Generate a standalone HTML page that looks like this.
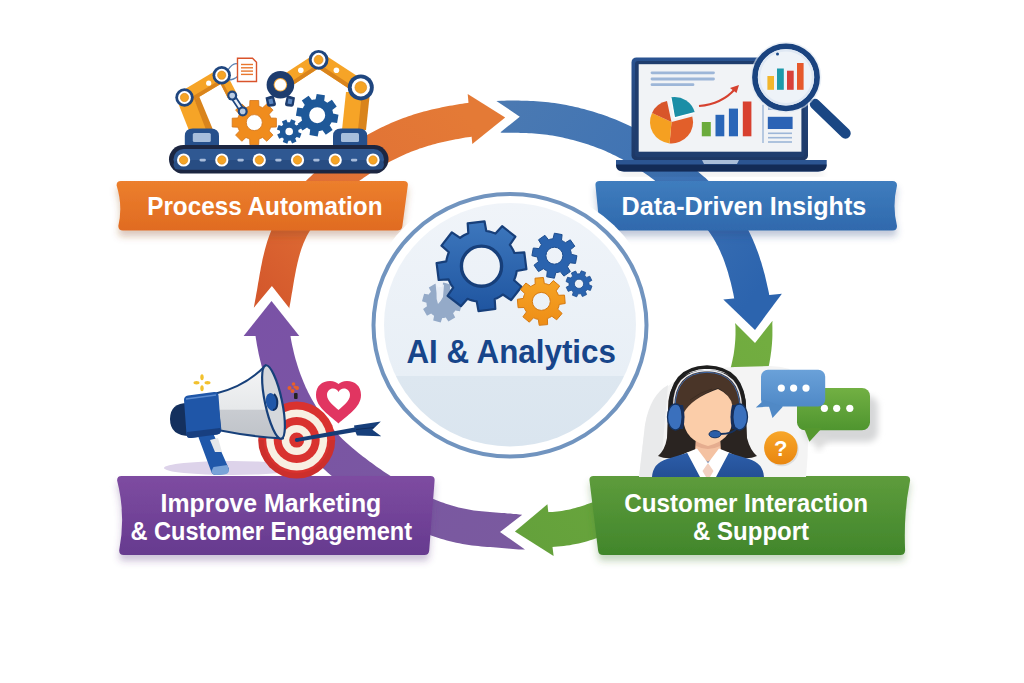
<!DOCTYPE html>
<html><head><meta charset="utf-8"><style>
html,body{margin:0;padding:0;background:#fff;width:1024px;height:683px;overflow:hidden}
svg{display:block}
</style></head><body>
<svg width="1024" height="683" viewBox="0 0 1024 683">
<rect width="1024" height="683" fill="#fff"/>

<defs>
<linearGradient id="gOr" x1="0" y1="0" x2="0" y2="1"><stop offset="0" stop-color="#ec7f2d"/><stop offset="1" stop-color="#e06b22"/></linearGradient>
<linearGradient id="gBl" x1="0" y1="0" x2="0" y2="1"><stop offset="0" stop-color="#3f7dbe"/><stop offset="1" stop-color="#2f69ad"/></linearGradient>
<linearGradient id="gGr" x1="0" y1="0" x2="0" y2="1"><stop offset="0" stop-color="#5e9c3c"/><stop offset="1" stop-color="#41862b"/></linearGradient>
<linearGradient id="gPu" x1="0" y1="0" x2="0" y2="1"><stop offset="0" stop-color="#7e4ca1"/><stop offset="1" stop-color="#663a8f"/></linearGradient>
<linearGradient id="aOr" gradientUnits="userSpaceOnUse" x1="470" y1="120" x2="272" y2="308"><stop offset="0" stop-color="#e47a36"/><stop offset="0.6" stop-color="#e06f35"/><stop offset="1" stop-color="#d4582c"/></linearGradient>
<linearGradient id="aBl" gradientUnits="userSpaceOnUse" x1="500" y1="117" x2="750" y2="300"><stop offset="0" stop-color="#4a79b2"/><stop offset="0.6" stop-color="#3d72b4"/><stop offset="1" stop-color="#2c64ae"/></linearGradient>
<linearGradient id="aGr" gradientUnits="userSpaceOnUse" x1="750" y1="320" x2="515" y2="530"><stop offset="0" stop-color="#72ad40"/><stop offset="1" stop-color="#64a13b"/></linearGradient>
<linearGradient id="aPu" gradientUnits="userSpaceOnUse" x1="520" y1="532" x2="272" y2="300"><stop offset="0" stop-color="#7a5a9f"/><stop offset="1" stop-color="#7a52a6"/></linearGradient>
<linearGradient id="cIn" x1="0" y1="0" x2="0" y2="1"><stop offset="0" stop-color="#f0f4f9"/><stop offset="0.71" stop-color="#e8eff6"/><stop offset="0.71" stop-color="#dde7f0"/><stop offset="1" stop-color="#dae5ef"/></linearGradient>
<filter id="sh" x="-10%" y="-20%" width="120%" height="160%"><feDropShadow dx="0" dy="5" stdDeviation="3" flood-color="#000" flood-opacity="0.22"/></filter>
<filter id="shOr" x="-10%" y="-20%" width="120%" height="170%"><feDropShadow dx="0" dy="6" stdDeviation="3.5" flood-color="#8a4a20" flood-opacity="0.3"/></filter>
<filter id="shBl" x="-10%" y="-20%" width="120%" height="170%"><feDropShadow dx="0" dy="6" stdDeviation="3.5" flood-color="#2a4a80" flood-opacity="0.3"/></filter>
<filter id="shGr" x="-10%" y="-20%" width="120%" height="170%"><feDropShadow dx="0" dy="6" stdDeviation="3.5" flood-color="#3f7a2a" flood-opacity="0.3"/></filter>
<filter id="shPu" x="-10%" y="-20%" width="120%" height="170%"><feDropShadow dx="0" dy="6" stdDeviation="3.5" flood-color="#5a3a80" flood-opacity="0.3"/></filter>
<filter id="sh2" x="-10%" y="-20%" width="130%" height="160%"><feDropShadow dx="2" dy="3" stdDeviation="2" flood-color="#000" flood-opacity="0.18"/></filter>
<filter id="blur3"><feGaussianBlur stdDeviation="3"/></filter>
</defs>
<path d="M289.0,307.8 L289.2,308.8 L289.6,306.3 L290.1,303.7 L290.6,301.1 L291.0,298.6 L291.4,296.1 L291.8,293.5 L292.3,291.0 L292.7,288.5 L293.1,286.1 L293.5,283.6 L293.9,281.2 L294.3,278.7 L294.8,276.3 L295.2,274.0 L295.7,271.6 L296.1,269.3 L296.6,267.0 L297.1,264.7 L297.6,262.4 L298.2,260.2 L298.7,258.0 L299.3,255.9 L299.9,253.7 L300.6,251.6 L301.2,249.6 L301.9,247.5 L302.7,245.6 L303.4,243.6 L304.2,241.7 L305.1,239.8 L305.9,237.9 L306.8,236.1 L307.8,234.3 L308.8,232.5 L309.9,230.7 L311.0,228.9 L312.1,227.1 L313.3,225.3 L314.6,223.6 L315.9,221.8 L317.2,220.1 L318.6,218.4 L320.0,216.6 L321.4,214.9 L322.9,213.2 L324.4,211.5 L326.0,209.9 L327.6,208.2 L329.2,206.5 L330.8,204.9 L332.5,203.3 L334.2,201.6 L335.9,200.0 L337.7,198.4 L339.5,196.8 L341.3,195.3 L343.1,193.7 L345.0,192.1 L346.8,190.6 L348.7,189.1 L350.6,187.6 L352.5,186.1 L354.4,184.6 L356.3,183.2 L358.2,181.7 L360.1,180.3 L362.1,178.9 L364.0,177.6 L366.0,176.2 L367.9,174.9 L369.9,173.6 L371.9,172.3 L373.9,171.0 L375.8,169.7 L377.9,168.5 L379.9,167.3 L381.9,166.1 L383.9,164.9 L386.0,163.8 L388.0,162.7 L390.1,161.6 L392.1,160.5 L394.2,159.4 L396.3,158.4 L398.3,157.4 L400.4,156.4 L402.5,155.5 L404.7,154.5 L406.8,153.6 L408.9,152.7 L411.0,151.8 L413.2,151.0 L415.3,150.2 L417.5,149.4 L419.6,148.6 L421.8,147.9 L424.0,147.2 L426.2,146.5 L428.4,145.8 L430.6,145.2 L432.8,144.5 L435.1,143.9 L437.3,143.3 L439.6,142.8 L441.9,142.2 L444.2,141.7 L446.5,141.2 L448.8,140.7 L451.1,140.2 L453.5,139.8 L455.8,139.3 L458.2,138.9 L460.6,138.5 L462.9,138.0 L465.3,137.6 L467.7,137.3 L470.1,136.9 L472.5,136.5 L477.5,135.8 L472.4,102.1 L467.5,102.9 L464.9,103.3 L462.4,103.7 L459.9,104.1 L457.3,104.5 L454.7,104.9 L452.2,105.4 L449.6,105.8 L447.0,106.3 L444.5,106.8 L441.9,107.3 L439.3,107.9 L436.7,108.4 L434.2,109.0 L431.6,109.6 L429.0,110.2 L426.4,110.9 L423.8,111.6 L421.3,112.3 L418.7,113.0 L416.1,113.8 L413.5,114.6 L411.0,115.5 L408.4,116.3 L405.9,117.2 L403.4,118.1 L400.9,119.1 L398.4,120.0 L395.9,121.0 L393.4,122.1 L390.9,123.1 L388.5,124.2 L386.1,125.3 L383.6,126.4 L381.2,127.6 L378.8,128.8 L376.4,130.0 L374.1,131.2 L371.7,132.5 L369.3,133.8 L367.0,135.1 L364.7,136.4 L362.4,137.7 L360.1,139.1 L357.8,140.5 L355.5,141.9 L353.2,143.4 L351.0,144.8 L348.8,146.3 L346.5,147.8 L344.3,149.3 L342.1,150.9 L339.9,152.4 L337.8,154.0 L335.6,155.6 L333.5,157.2 L331.3,158.9 L329.2,160.5 L327.1,162.2 L325.0,163.9 L322.9,165.6 L320.8,167.3 L318.8,169.1 L316.7,170.9 L314.7,172.7 L312.6,174.5 L310.6,176.4 L308.6,178.3 L306.6,180.2 L304.7,182.1 L302.7,184.1 L300.8,186.1 L298.9,188.1 L297.0,190.2 L295.2,192.3 L293.4,194.4 L291.6,196.6 L289.9,198.8 L288.1,201.0 L286.5,203.3 L284.8,205.6 L283.2,207.9 L281.7,210.3 L280.2,212.7 L278.7,215.2 L277.3,217.6 L276.0,220.2 L274.7,222.7 L273.5,225.3 L272.3,228.0 L271.2,230.6 L270.2,233.2 L269.2,235.8 L268.3,238.5 L267.4,241.1 L266.6,243.8 L265.8,246.4 L265.1,249.1 L264.4,251.7 L263.8,254.3 L263.1,257.0 L262.5,259.6 L262.0,262.2 L261.5,264.8 L260.9,267.4 L260.5,270.0 L260.0,272.6 L259.5,275.2 L259.1,277.7 L258.7,280.3 L258.2,282.8 L257.8,285.3 L257.4,287.8 L257.0,290.2 L256.5,292.7 L256.1,295.1 L255.7,297.5 L255.2,299.9 L254.8,302.2 L253.8,307.8 L271.9,286.0Z" fill="url(#aOr)"/><path d="M467.7,94 L505.2,117.5 L472.3,144Z" fill="url(#aOr)"/><path d="M500.5,132.3 L501.4,132.7 L504.2,132.7 L507.0,132.7 L509.8,132.7 L512.6,132.8 L515.4,132.8 L518.1,132.8 L520.8,132.9 L523.5,132.9 L526.2,133.0 L528.9,133.2 L531.6,133.3 L534.2,133.5 L536.8,133.7 L539.4,133.9 L542.0,134.2 L544.5,134.5 L547.1,134.8 L549.7,135.2 L552.3,135.6 L554.9,136.1 L557.5,136.5 L560.1,137.0 L562.7,137.6 L565.3,138.2 L567.8,138.8 L570.4,139.4 L573.0,140.0 L575.6,140.7 L578.1,141.4 L580.7,142.2 L583.2,143.0 L585.8,143.7 L588.3,144.6 L590.8,145.4 L593.3,146.3 L595.7,147.2 L598.2,148.2 L600.7,149.1 L603.1,150.1 L605.5,151.1 L607.9,152.2 L610.3,153.3 L612.6,154.4 L615.0,155.5 L617.3,156.7 L619.6,157.9 L621.9,159.1 L624.2,160.4 L626.5,161.7 L628.8,163.0 L631.0,164.3 L633.3,165.7 L635.5,167.1 L637.7,168.6 L639.9,170.0 L642.2,171.5 L644.4,173.0 L646.6,174.6 L648.8,176.1 L651.0,177.7 L653.2,179.3 L655.3,180.9 L657.5,182.6 L659.7,184.3 L661.9,185.9 L664.1,187.6 L666.2,189.4 L668.4,191.1 L670.5,192.8 L672.7,194.6 L674.8,196.3 L676.9,198.1 L678.9,199.9 L681.0,201.7 L683.0,203.5 L685.0,205.3 L687.0,207.1 L688.9,208.9 L690.8,210.8 L692.7,212.6 L694.5,214.5 L696.3,216.4 L698.1,218.3 L699.8,220.2 L701.4,222.1 L703.1,224.1 L704.7,226.0 L706.2,228.0 L707.7,230.0 L709.2,232.0 L710.6,234.0 L711.9,236.1 L713.2,238.1 L714.5,240.2 L715.7,242.3 L716.8,244.5 L718.0,246.6 L719.1,248.9 L720.1,251.1 L721.1,253.4 L722.1,255.7 L723.1,258.1 L724.0,260.5 L724.9,262.9 L725.7,265.4 L726.5,267.8 L727.3,270.3 L728.1,272.8 L728.8,275.4 L729.5,277.9 L730.2,280.5 L730.9,283.1 L731.5,285.7 L732.1,288.3 L732.7,291.0 L733.3,293.6 L733.8,296.3 L734.3,298.9 L735.3,303.8 L769.6,297.0 L768.7,292.1 L768.1,289.2 L767.4,286.3 L766.8,283.4 L766.1,280.4 L765.4,277.5 L764.7,274.6 L763.9,271.7 L763.1,268.7 L762.2,265.8 L761.4,262.8 L760.4,259.9 L759.5,257.0 L758.5,254.0 L757.4,251.1 L756.3,248.2 L755.2,245.3 L754.0,242.4 L752.8,239.5 L751.5,236.7 L750.1,233.8 L748.7,231.0 L747.2,228.2 L745.6,225.4 L744.0,222.6 L742.4,219.9 L740.6,217.2 L738.9,214.6 L737.0,212.0 L735.2,209.5 L733.3,207.0 L731.3,204.6 L729.3,202.2 L727.3,199.8 L725.2,197.5 L723.2,195.2 L721.0,192.9 L718.9,190.7 L716.7,188.5 L714.5,186.4 L712.3,184.3 L710.1,182.2 L707.8,180.2 L705.6,178.1 L703.3,176.2 L701.0,174.2 L698.7,172.2 L696.4,170.3 L694.1,168.4 L691.8,166.6 L689.4,164.7 L687.1,162.9 L684.8,161.1 L682.5,159.3 L680.1,157.5 L677.7,155.7 L675.4,154.0 L673.0,152.2 L670.6,150.5 L668.2,148.8 L665.7,147.1 L663.3,145.4 L660.8,143.7 L658.3,142.1 L655.8,140.5 L653.3,138.9 L650.7,137.3 L648.1,135.8 L645.5,134.3 L642.9,132.8 L640.3,131.3 L637.6,129.9 L634.9,128.5 L632.2,127.1 L629.5,125.7 L626.8,124.4 L624.0,123.2 L621.2,121.9 L618.4,120.8 L615.6,119.6 L612.8,118.5 L610.0,117.4 L607.1,116.3 L604.3,115.3 L601.4,114.3 L598.5,113.4 L595.7,112.4 L592.8,111.6 L589.9,110.7 L587.0,109.9 L584.0,109.1 L581.1,108.4 L578.2,107.6 L575.2,107.0 L572.3,106.3 L569.4,105.7 L566.4,105.1 L563.4,104.5 L560.5,104.0 L557.5,103.5 L554.5,103.1 L551.5,102.7 L548.4,102.3 L545.4,102.0 L542.4,101.7 L539.3,101.4 L536.3,101.2 L533.3,101.0 L530.3,100.9 L527.3,100.8 L524.4,100.7 L521.4,100.7 L518.5,100.6 L515.6,100.6 L512.7,100.6 L509.8,100.6 L507.0,100.6 L504.1,100.7 L501.3,100.7 L496.4,101.0 L519.8,116.7Z" fill="url(#aBl)"/><path d="M723.3,299.6 L755,330 L781.9,293.8Z" fill="url(#aBl)"/><path d="M735.0,323.0 L735.4,325.4 L735.5,327.8 L735.5,330.1 L735.5,332.5 L735.5,334.8 L735.4,337.2 L735.3,339.5 L735.1,341.9 L734.9,344.2 L734.7,346.5 L734.4,348.9 L734.1,351.2 L733.8,353.5 L733.4,355.8 L732.9,358.1 L732.4,360.4 L731.9,362.7 L731.4,364.9 L730.8,367.2 L730.1,369.5 L729.4,371.7 L728.7,374.0 L728.0,376.2 L727.2,378.4 L726.4,380.7 L725.5,382.9 L724.6,385.1 L723.7,387.2 L722.7,389.4 L721.7,391.6 L720.6,393.7 L719.6,395.8 L718.4,398.0 L717.3,400.1 L716.1,402.1 L714.9,404.2 L713.7,406.3 L712.4,408.3 L711.1,410.4 L709.8,412.4 L708.4,414.4 L707.0,416.4 L705.6,418.3 L704.2,420.3 L702.7,422.2 L701.2,424.2 L699.7,426.1 L698.1,428.0 L696.6,429.8 L695.0,431.7 L693.4,433.5 L691.7,435.3 L690.1,437.2 L688.4,438.9 L686.7,440.7 L684.9,442.5 L683.2,444.2 L681.4,445.9 L679.6,447.7 L677.8,449.3 L676.0,451.0 L674.2,452.7 L672.3,454.3 L670.4,455.9 L668.5,457.5 L666.6,459.1 L664.7,460.7 L662.7,462.2 L660.8,463.8 L658.8,465.3 L656.8,466.8 L654.8,468.3 L652.7,469.7 L650.7,471.2 L648.7,472.6 L646.6,474.0 L644.5,475.4 L642.4,476.7 L640.3,478.1 L638.2,479.4 L636.1,480.7 L633.9,482.0 L631.8,483.3 L629.6,484.6 L627.4,485.8 L625.3,487.0 L623.1,488.2 L620.9,489.4 L618.7,490.6 L616.4,491.7 L614.2,492.8 L612.0,493.9 L609.7,495.0 L607.5,496.0 L605.2,497.0 L602.9,498.0 L600.7,499.0 L598.4,500.0 L596.1,500.9 L593.8,501.8 L591.4,502.7 L589.1,503.5 L586.8,504.3 L584.5,505.2 L582.1,505.9 L579.8,506.7 L577.5,507.3 L575.2,508.0 L573.0,508.6 L570.7,509.2 L568.5,509.7 L566.2,510.1 L564.0,510.5 L561.7,510.9 L559.5,511.2 L557.2,511.5 L554.8,511.7 L552.5,511.9 L550.1,512.0 L545.1,512.3 L546.9,547.2 L551.9,547.0 L554.8,546.8 L557.8,546.6 L560.8,546.3 L563.7,546.0 L566.7,545.6 L569.7,545.2 L572.7,544.6 L575.7,544.0 L578.7,543.4 L581.6,542.7 L584.5,541.9 L587.3,541.2 L590.1,540.3 L592.9,539.5 L595.6,538.6 L598.3,537.7 L601.0,536.7 L603.7,535.8 L606.4,534.8 L609.0,533.8 L611.6,532.7 L614.3,531.6 L616.9,530.5 L619.5,529.4 L622.1,528.3 L624.7,527.1 L627.2,525.9 L629.8,524.7 L632.3,523.4 L634.8,522.2 L637.4,520.9 L639.9,519.6 L642.3,518.2 L644.8,516.9 L647.3,515.5 L649.7,514.1 L652.2,512.7 L654.6,511.2 L657.0,509.7 L659.4,508.3 L661.8,506.8 L664.1,505.2 L666.5,503.7 L668.8,502.1 L671.1,500.5 L673.5,498.9 L675.8,497.2 L678.0,495.6 L680.3,493.9 L682.6,492.2 L684.8,490.5 L687.0,488.7 L689.3,486.9 L691.4,485.2 L693.6,483.3 L695.8,481.5 L697.9,479.6 L700.1,477.8 L702.2,475.8 L704.3,473.9 L706.3,472.0 L708.4,470.0 L710.4,468.0 L712.4,466.0 L714.4,463.9 L716.4,461.8 L718.4,459.7 L720.3,457.6 L722.2,455.5 L724.1,453.3 L726.0,451.1 L727.8,448.9 L729.6,446.7 L731.4,444.4 L733.1,442.1 L734.9,439.8 L736.6,437.4 L738.3,435.1 L739.9,432.7 L741.5,430.3 L743.1,427.8 L744.7,425.4 L746.2,422.9 L747.7,420.3 L749.1,417.8 L750.5,415.2 L751.9,412.6 L753.3,410.0 L754.6,407.4 L755.8,404.7 L757.0,402.1 L758.2,399.4 L759.4,396.6 L760.5,393.9 L761.5,391.1 L762.5,388.3 L763.5,385.5 L764.4,382.7 L765.3,379.9 L766.1,377.0 L766.9,374.1 L767.6,371.2 L768.3,368.3 L768.9,365.4 L769.5,362.5 L770.0,359.5 L770.5,356.6 L770.9,353.6 L771.3,350.7 L771.6,347.7 L771.9,344.7 L772.1,341.7 L772.3,338.8 L772.4,335.8 L772.4,332.8 L772.4,329.8 L772.4,326.8 L772.3,323.9 L772.5,320.7 L755.0,343.0Z" fill="url(#aGr)"/><path d="M547.4,504.3 L514.9,531.5 L553.6,556Z" fill="url(#aGr)"/><path d="M521.6,515.3 L522.1,514.7 L519.2,514.4 L516.3,514.1 L513.3,513.9 L510.4,513.6 L507.5,513.4 L504.5,513.1 L501.5,512.9 L498.6,512.7 L495.7,512.5 L492.8,512.3 L489.9,512.0 L487.1,511.8 L484.4,511.6 L481.7,511.3 L479.0,511.1 L476.4,510.8 L473.8,510.4 L471.2,510.0 L468.7,509.6 L466.2,509.1 L463.6,508.6 L461.1,508.0 L458.5,507.4 L456.0,506.7 L453.5,506.0 L450.9,505.3 L448.4,504.5 L445.9,503.7 L443.4,502.8 L440.9,501.9 L438.4,501.0 L435.9,500.0 L433.4,499.0 L430.9,497.9 L428.4,496.9 L426.0,495.8 L423.5,494.6 L421.1,493.5 L418.7,492.3 L416.3,491.1 L413.8,489.8 L411.4,488.5 L409.0,487.2 L406.7,485.9 L404.3,484.5 L401.9,483.1 L399.5,481.7 L397.2,480.3 L394.8,478.8 L392.5,477.3 L390.2,475.8 L387.9,474.3 L385.5,472.8 L383.2,471.2 L380.9,469.6 L378.6,468.0 L376.3,466.4 L374.1,464.8 L371.8,463.1 L369.5,461.4 L367.3,459.8 L365.1,458.1 L362.9,456.4 L360.7,454.7 L358.5,453.0 L356.4,451.3 L354.3,449.6 L352.2,447.8 L350.2,446.1 L348.2,444.3 L346.2,442.5 L344.3,440.7 L342.4,438.9 L340.5,437.0 L338.6,435.1 L336.8,433.2 L335.0,431.2 L333.2,429.3 L331.5,427.3 L329.8,425.3 L328.1,423.2 L326.4,421.1 L324.8,419.0 L323.2,416.9 L321.7,414.8 L320.2,412.6 L318.7,410.4 L317.3,408.2 L315.8,406.0 L314.5,403.7 L313.1,401.5 L311.8,399.2 L310.6,396.9 L309.3,394.5 L308.1,392.2 L307.0,389.8 L305.8,387.4 L304.8,384.9 L303.7,382.5 L302.7,380.0 L301.7,377.6 L300.7,375.1 L299.8,372.5 L298.9,370.0 L298.1,367.5 L297.3,364.9 L296.5,362.3 L295.7,359.8 L295.0,357.2 L294.3,354.6 L293.7,351.9 L293.1,349.3 L292.5,346.7 L291.9,344.0 L291.4,341.4 L290.9,338.8 L290.5,336.1 L290.1,333.4 L289.3,328.5 L255.2,333.6 L255.9,338.6 L256.4,341.6 L256.9,344.7 L257.5,347.8 L258.1,350.8 L258.7,353.9 L259.4,357.0 L260.1,360.0 L260.9,363.1 L261.6,366.1 L262.5,369.1 L263.4,372.2 L264.3,375.2 L265.2,378.2 L266.2,381.2 L267.3,384.2 L268.3,387.1 L269.5,390.1 L270.6,393.0 L271.8,396.0 L273.1,398.9 L274.4,401.8 L275.7,404.7 L277.1,407.5 L278.6,410.4 L280.1,413.2 L281.6,416.0 L283.1,418.8 L284.8,421.5 L286.4,424.2 L288.1,426.9 L289.9,429.6 L291.6,432.2 L293.5,434.8 L295.3,437.4 L297.2,440.0 L299.1,442.5 L301.1,445.0 L303.1,447.4 L305.2,449.8 L307.2,452.2 L309.4,454.6 L311.5,456.9 L313.7,459.2 L315.9,461.5 L318.1,463.7 L320.4,465.9 L322.7,468.0 L325.0,470.1 L327.4,472.2 L329.7,474.2 L332.1,476.2 L334.4,478.2 L336.8,480.1 L339.2,482.0 L341.6,483.9 L344.0,485.7 L346.4,487.6 L348.9,489.4 L351.3,491.1 L353.7,492.9 L356.2,494.7 L358.6,496.4 L361.1,498.2 L363.6,499.9 L366.1,501.6 L368.6,503.3 L371.2,505.0 L373.7,506.6 L376.3,508.3 L378.9,509.9 L381.5,511.5 L384.2,513.1 L386.8,514.6 L389.5,516.1 L392.2,517.7 L394.9,519.1 L397.6,520.6 L400.3,522.0 L403.1,523.4 L405.9,524.8 L408.7,526.1 L411.5,527.5 L414.3,528.7 L417.2,530.0 L420.1,531.2 L423.0,532.4 L425.9,533.5 L428.8,534.6 L431.8,535.7 L434.8,536.7 L437.8,537.7 L440.8,538.7 L443.8,539.6 L446.9,540.4 L450.0,541.2 L453.1,542.0 L456.2,542.7 L459.3,543.3 L462.5,543.9 L465.7,544.5 L468.9,545.0 L472.0,545.4 L475.1,545.8 L478.2,546.1 L481.3,546.4 L484.3,546.7 L487.3,546.9 L490.3,547.1 L493.2,547.3 L496.0,547.5 L498.9,547.7 L501.7,548.0 L504.5,548.2 L507.3,548.5 L510.2,548.7 L513.0,549.0 L515.9,549.2 L518.7,549.5 L525.0,549.4 L500.0,531.9Z" fill="url(#aPu)"/><path d="M243.6,336 L271.5,301 L299.3,336Z" fill="url(#aPu)"/>
<path d="M120.9,181.0 L403.9,181.0 Q408.4,181.0 407.8,185.5 L402.4,226.0 Q401.8,230.5 397.3,230.5 L123.0,230.5 Q118.5,230.5 118.3,226.0 Q123,206 116.6,185.5 Q116.4,181.0 120.9,181.0Z" fill="url(#gOr)" filter="url(#shOr)"/>
<path d="M599.5,181.0 L892.5,181.0 Q897.0,181.0 897.0,185.5 Q892,206 897.0,226.0 Q897.0,230.5 892.5,230.5 L604.5,230.5 Q600.0,230.5 599.5,226.0 L595.5,185.5 Q595.0,181.0 599.5,181.0Z" fill="url(#gBl)" filter="url(#shBl)"/>
<path d="M593.5,476.0 L905.9,476.0 Q910.4,476.0 910.1,480.5 Q903.5,512 905.1,550.5 Q904.8,555.0 900.3,555.0 L603.1,555.0 Q598.6,555.0 598.1,550.5 L589.5,480.5 Q589.0,476.0 593.5,476.0Z" fill="url(#gGr)" filter="url(#shGr)"/>
<path d="M121.5,476.0 L430.5,476.0 Q435.0,476.0 434.6,480.5 L429.2,550.5 Q428.8,555.0 424.3,555.0 L123.8,555.0 Q119.3,555.0 119.2,550.5 Q126,515 117.1,480.5 Q117.0,476.0 121.5,476.0Z" fill="url(#gPu)" filter="url(#shPu)"/>
<ellipse cx="510" cy="325.3" rx="147" ry="141.5" fill="#fff"/>
<ellipse cx="510" cy="325.3" rx="136.5" ry="131.3" fill="none" stroke="#7194bf" stroke-width="4"/>
<ellipse cx="510" cy="324.7" rx="126" ry="121.7" fill="url(#cIn)"/>
<path d="M178.8,104.8 L193.3,96.9 L208.5,129.8 L188.7,129.8Z" fill="#f6a427"/><path d="M193.3,96.9 L199,96 L213,129.8 L206,129.8Z" fill="#d9841c"/><path d="M346,92 L369,92 L364,130 L342,130Z" fill="#f6a427"/><path d="M362,92 L370,92 L366,130 L358,130Z" fill="#d9841c"/><path d="M188.1,103.5 L225.3,81.2 L218.1,69.2 L180.9,91.5Z" fill="#f6a427"/><path d="M188.1,103.5 L225.3,81.2 L223.3,77.9 L186.1,100.2Z" fill="#d9841c"/><path d="M217.3,77.5 L227.8,97.9 L236.6,93.3 L226.1,72.9Z" fill="#f6a427"/><path d="M217.3,77.5 L227.8,97.9 L230.2,96.6 L219.7,76.2Z" fill="#d9841c"/><path d="M284.2,90.7 L322.4,65.7 L314.8,53.9 L276.6,78.9Z" fill="#f6a427"/><path d="M284.2,90.7 L322.4,65.7 L320.3,62.4 L282.1,87.4Z" fill="#d9841c"/><path d="M314.5,66.1 L356.7,93.7 L364.9,81.1 L322.7,53.5Z" fill="#f6a427"/><path d="M314.5,66.1 L356.7,93.7 L359.0,90.2 L316.8,62.6Z" fill="#d9841c"/><circle cx="208.7" cy="83.2" r="2.6" fill="#fff"/><circle cx="300.8" cy="70.3" r="2.8" fill="#fff"/><circle cx="336.4" cy="70.3" r="2.8" fill="#fff"/><path d="M228,70 Q233,62 238,64" fill="none" stroke="#5a7fb0" stroke-width="1.2"/><path d="M228,80 Q234,80 238,76" fill="none" stroke="#5a7fb0" stroke-width="1.2"/><path d="M237.5,58.3 L252.5,58.3 L256.5,62.3 L256.5,81.5 L237.5,81.5Z" fill="#fff" stroke="#d9532b" stroke-width="1.4"/><line x1="241" y1="64.5" x2="253" y2="64.5" stroke="#e8772e" stroke-width="1.4"/><line x1="241" y1="67.8" x2="253" y2="67.8" stroke="#e8772e" stroke-width="1.4"/><line x1="241" y1="71.1" x2="253" y2="71.1" stroke="#e8772e" stroke-width="1.4"/><line x1="241" y1="74.4" x2="253" y2="74.4" stroke="#e8772e" stroke-width="1.4"/><path d="M249.7,106.2 L249.9,100.5 L258.7,100.5 L258.9,106.2 L259.9,106.5 L260.8,106.9 L261.7,107.3 L262.6,107.8 L266.8,103.9 L273.0,110.1 L269.1,114.3 L269.6,115.2 L270.0,116.1 L270.4,117.0 L270.7,118.0 L276.4,118.2 L276.4,127.0 L270.7,127.2 L270.4,128.2 L270.0,129.1 L269.6,130.0 L269.1,130.9 L273.0,135.1 L266.8,141.3 L262.6,137.4 L261.7,137.9 L260.8,138.3 L259.9,138.7 L258.9,139.0 L258.7,144.7 L249.9,144.7 L249.7,139.0 L248.7,138.7 L247.8,138.3 L246.9,137.9 L246.0,137.4 L241.8,141.3 L235.6,135.1 L239.5,130.9 L239.0,130.0 L238.6,129.1 L238.2,128.2 L237.9,127.2 L232.2,127.0 L232.2,118.2 L237.9,118.0 L238.2,117.0 L238.6,116.1 L239.0,115.2 L239.5,114.3 L235.6,110.1 L241.8,103.9 L246.0,107.8 L246.9,107.3 L247.8,106.9 L248.7,106.5Z M262.3,122.6 A8,8 0 1 0 246.3,122.6 A8,8 0 1 0 262.3,122.6Z" fill="#f08c1d" fill-rule="evenodd" stroke="#d2751a" stroke-width="0.8"/><path d="M315.6,99.3 L316.7,93.9 L324.9,95.3 L324.2,100.8 L325.0,101.2 L325.8,101.7 L326.6,102.2 L327.3,102.8 L331.9,99.8 L336.7,106.6 L332.3,109.9 L332.6,110.8 L332.8,111.7 L333.0,112.7 L333.1,113.6 L338.5,114.7 L337.1,122.9 L331.6,122.2 L331.2,123.0 L330.7,123.8 L330.2,124.6 L329.6,125.3 L332.6,129.9 L325.8,134.7 L322.5,130.3 L321.6,130.6 L320.7,130.8 L319.7,131.0 L318.8,131.1 L317.7,136.5 L309.5,135.1 L310.2,129.6 L309.4,129.2 L308.6,128.7 L307.8,128.2 L307.1,127.6 L302.5,130.6 L297.7,123.8 L302.1,120.5 L301.8,119.6 L301.6,118.7 L301.4,117.7 L301.3,116.8 L295.9,115.7 L297.3,107.5 L302.8,108.2 L303.2,107.4 L303.7,106.6 L304.2,105.8 L304.8,105.1 L301.8,100.5 L308.6,95.7 L311.9,100.1 L312.8,99.8 L313.7,99.6 L314.7,99.4Z M325.2,115.2 A8,8 0 1 0 309.2,115.2 A8,8 0 1 0 325.2,115.2Z" fill="#1e5898" fill-rule="evenodd"/><path d="M289.9,122.3 L291.1,119.2 L295.6,120.9 L294.6,124.0 L295.0,124.4 L295.4,124.7 L295.8,125.1 L296.2,125.5 L299.2,124.2 L301.2,128.6 L298.3,130.0 L298.4,130.6 L298.4,131.1 L298.4,131.6 L298.4,132.2 L301.5,133.4 L299.8,137.9 L296.7,136.9 L296.3,137.3 L296.0,137.7 L295.6,138.1 L295.2,138.5 L296.5,141.5 L292.1,143.5 L290.7,140.6 L290.1,140.7 L289.6,140.7 L289.1,140.7 L288.5,140.7 L287.3,143.8 L282.8,142.1 L283.8,139.0 L283.4,138.6 L283.0,138.3 L282.6,137.9 L282.2,137.5 L279.2,138.8 L277.2,134.4 L280.1,133.0 L280.0,132.4 L280.0,131.9 L280.0,131.4 L280.0,130.8 L276.9,129.6 L278.6,125.1 L281.7,126.1 L282.1,125.7 L282.4,125.3 L282.8,124.9 L283.2,124.5 L281.9,121.5 L286.3,119.5 L287.7,122.4 L288.3,122.3 L288.8,122.3 L289.3,122.3Z M293.0,131.5 A3.8,3.8 0 1 0 285.4,131.5 A3.8,3.8 0 1 0 293.0,131.5Z" fill="#1e5898" fill-rule="evenodd"/><line x1="232.2" y1="95.6" x2="242.7" y2="111.4" stroke="#1f467f" stroke-width="6" stroke-linecap="round"/><line x1="232.2" y1="95.6" x2="242.7" y2="111.4" stroke="#e9eef6" stroke-width="2.6" stroke-linecap="round"/><circle cx="232.2" cy="95.6" r="5" fill="#1f467f"/><circle cx="232.2" cy="95.6" r="2.8" fill="#b9cbe3"/><circle cx="242.7" cy="111.4" r="5" fill="#1f467f"/><circle cx="242.7" cy="111.4" r="2.8" fill="#b9cbe3"/><circle cx="184.5" cy="97.5" r="9.2" fill="#1f467f"/><circle cx="184.5" cy="97.5" r="6.44" fill="#fff"/><circle cx="184.5" cy="97.5" r="4.14" fill="#f5a425" stroke="#d9841a" stroke-width="0.6"/><circle cx="221.7" cy="75.2" r="9.2" fill="#1f467f"/><circle cx="221.7" cy="75.2" r="6.44" fill="#fff"/><circle cx="221.7" cy="75.2" r="4.14" fill="#f5a425" stroke="#d9841a" stroke-width="0.6"/><circle cx="318.6" cy="59.8" r="9.9" fill="#1f467f"/><circle cx="318.6" cy="59.8" r="6.93" fill="#fff"/><circle cx="318.6" cy="59.8" r="4.46" fill="#f5a425" stroke="#d9841a" stroke-width="0.6"/><circle cx="360.8" cy="87.4" r="13" fill="#1f467f"/><circle cx="360.8" cy="87.4" r="9.10" fill="#fff"/><circle cx="360.8" cy="87.4" r="5.85" fill="#f5a425" stroke="#d9841a" stroke-width="0.6"/><path d="M265.5,97.5 L273.5,95 L276,104 Q276,106 274,106.2 L269.5,106.8 Q267.5,107 267,105Z" fill="#1d3c6e"/><path d="M268.3,99.5 L272.3,98.5 L273.5,103.5 L269.5,104.3Z" fill="#5b86c0"/><path d="M287,95 L295,97.5 L293.8,105 Q293.3,107 291.3,106.8 L286.8,106.2 Q284.8,106 285,104Z" fill="#1d3c6e"/><path d="M288.5,98.5 L292.5,99.5 L291.5,104.3 L287.5,103.5Z" fill="#5b86c0"/><circle cx="280.4" cy="84.8" r="13.8" fill="#1d3c6e"/><circle cx="280.4" cy="84.8" r="6.8" fill="#f4a83a"/><circle cx="280.4" cy="84.8" r="5.8" fill="#fff"/><path d="M184.8,146 L184.8,136 Q184.8,128.5 192.8,128.5 L210.8,128.5 Q219.0,128.5 219.0,136 L219.0,146Z" fill="#26508c"/><rect x="192.8" y="133" width="18" height="9" rx="1.5" fill="#a7bedc"/><path d="M333,146 L333,136 Q333,128.5 341,128.5 L359,128.5 Q367.2,128.5 367.2,136 L367.2,146Z" fill="#26508c"/><rect x="341" y="133" width="18" height="9" rx="1.5" fill="#a7bedc"/><rect x="169" y="145" width="219.5" height="28.6" rx="14.3" fill="#1c2641"/><rect x="173.5" y="149" width="210.5" height="20.6" rx="10.3" fill="#2f5892"/><rect x="173.5" y="160" width="210.5" height="9.6" rx="4.8" fill="#284d83"/><circle cx="183.6" cy="160" r="6.6" fill="#fff"/><circle cx="183.6" cy="160" r="4.2" fill="#f5a425" stroke="#d78418" stroke-width="0.6"/><circle cx="221.8" cy="160" r="6.6" fill="#fff"/><circle cx="221.8" cy="160" r="4.2" fill="#f5a425" stroke="#d78418" stroke-width="0.6"/><circle cx="259.3" cy="160" r="6.6" fill="#fff"/><circle cx="259.3" cy="160" r="4.2" fill="#f5a425" stroke="#d78418" stroke-width="0.6"/><circle cx="297.5" cy="160" r="6.6" fill="#fff"/><circle cx="297.5" cy="160" r="4.2" fill="#f5a425" stroke="#d78418" stroke-width="0.6"/><circle cx="335.2" cy="160" r="6.6" fill="#fff"/><circle cx="335.2" cy="160" r="4.2" fill="#f5a425" stroke="#d78418" stroke-width="0.6"/><circle cx="373" cy="160" r="6.6" fill="#fff"/><circle cx="373" cy="160" r="4.2" fill="#f5a425" stroke="#d78418" stroke-width="0.6"/><rect x="199.5" y="158.8" width="6.4" height="2.6" rx="1.3" fill="#a9bddb"/><rect x="237.4" y="158.8" width="6.4" height="2.6" rx="1.3" fill="#a9bddb"/><rect x="275.2" y="158.8" width="6.4" height="2.6" rx="1.3" fill="#a9bddb"/><rect x="313.2" y="158.8" width="6.4" height="2.6" rx="1.3" fill="#a9bddb"/><rect x="350.9" y="158.8" width="6.4" height="2.6" rx="1.3" fill="#a9bddb"/>
<defs><linearGradient id="gLp" x1="0" y1="0" x2="0" y2="1"><stop offset="0" stop-color="#2a5391"/><stop offset="1" stop-color="#1d3764"/></linearGradient></defs><rect x="631.5" y="57.4" width="176.5" height="103" rx="5" fill="url(#gLp)"/><rect x="635" y="61" width="169.5" height="96" rx="3" fill="#1f3d6e"/><rect x="638.7" y="64.2" width="162.7" height="87.5" fill="#f1f3f6"/><rect x="620" y="171" width="204" height="5" rx="2.5" fill="#000" opacity="0.08" filter="url(#blur3)"/><path d="M616,160 L826.7,160 L826.7,164 Q826.7,171.5 818,171.5 L624,171.5 Q616,171.5 616,164Z" fill="#2c5592"/><path d="M616,164.5 L826.7,164.5 L826.7,165 Q826.7,171.5 818,171.5 L624,171.5 Q616,171.5 616,165Z" fill="#132b56"/><path d="M702,160 L739,160 L737,164 L704,164Z" fill="#a9bdd8"/><line x1="652" y1="72.8" x2="713.5" y2="72.8" stroke="#9db6d8" stroke-width="2.8" stroke-linecap="round"/><line x1="652" y1="79" x2="713.5" y2="79" stroke="#9db6d8" stroke-width="2.8" stroke-linecap="round"/><line x1="652" y1="84.7" x2="693" y2="84.7" stroke="#9db6d8" stroke-width="2.8" stroke-linecap="round"/><path d="M671.5,122.0 L692.3,116.4 A21.5,21.5 0 0 1 669.6,143.4Z" fill="#e25f2a"/><path d="M671.5,122.0 L669.6,143.4 A21.5,21.5 0 0 1 652.0,112.9Z" fill="#f5a021"/><path d="M671.5,122.0 L652.0,112.9 A21.5,21.5 0 0 1 667.0,101.0Z" fill="#d8552a"/><path d="M674.5,118.0 L670.9,97.3 A21,21 0 0 1 694.8,112.6Z" fill="#1b8ea6"/><path d="M674.5,118 L670.9,97.3" stroke="#fff" stroke-width="1.3"/><path d="M674.5,118 L694.8,112.6" stroke="#fff" stroke-width="1.3"/><rect x="701.8" y="122" width="9" height="14.3" fill="#6bab3c"/><rect x="715.5" y="114.8" width="8.8" height="21.5" fill="#2a66b8"/><rect x="728.9" y="108.6" width="9.1" height="27.7" fill="#2a66b8"/><rect x="742.8" y="101.5" width="8.6" height="34.8" fill="#d8402f"/><path d="M699,106 Q722,104 735,89" fill="none" stroke="#d6412f" stroke-width="2"/><path d="M739,85 L730,88 L736.5,93Z" fill="#d6412f"/><line x1="763" y1="104.7" x2="763" y2="143" stroke="#9db6d8" stroke-width="1.4"/><rect x="768" y="106" width="24" height="4" fill="#9db6d8"/><rect x="767.8" y="116.8" width="24.8" height="12.2" fill="#2c63b5"/><line x1="768" y1="133.3" x2="792" y2="133.3" stroke="#9db6d8" stroke-width="1.6"/><line x1="768" y1="137.7" x2="792" y2="137.7" stroke="#9db6d8" stroke-width="1.6"/><line x1="768" y1="142" x2="792" y2="142" stroke="#9db6d8" stroke-width="1.6"/><line x1="815" y1="104" x2="845.5" y2="133.4" stroke="#1a4784" stroke-width="10.5" stroke-linecap="round"/><circle cx="786" cy="77.3" r="35.5" fill="#dfe7f1" opacity="0.6"/><circle cx="786" cy="77.3" r="31" fill="#eef3f8" stroke="#1a437f" stroke-width="5.8"/><circle cx="786" cy="77.3" r="27" fill="none" stroke="#dfe8f3" stroke-width="2.5"/><rect x="767.4" y="76" width="6.6" height="13.8" fill="#f2b62c"/><rect x="777" y="68.5" width="6.8" height="21.3" fill="#1d9aaa"/><rect x="787" y="70.7" width="6.7" height="19.1" fill="#d8413a"/><rect x="797" y="63" width="6.6" height="26.8" fill="#e6592b"/><circle cx="777.5" cy="54" r="1.5" fill="#1a4a8a"/>
<defs><linearGradient id="gBig" x1="0" y1="0" x2="0" y2="1"><stop offset="0" stop-color="#3d77bd"/><stop offset="1" stop-color="#1f55a0"/></linearGradient><linearGradient id="gOrg" x1="0" y1="0" x2="0" y2="1"><stop offset="0" stop-color="#f6a526"/><stop offset="1" stop-color="#ee8d16"/></linearGradient></defs><path d="M441.8,287.0 L443.3,282.5 L450.8,284.6 L449.9,289.2 L450.7,289.7 L451.4,290.2 L452.1,290.8 L452.8,291.4 L457.0,289.3 L460.9,296.1 L457.0,298.7 L457.2,299.6 L457.4,300.5 L457.5,301.4 L457.5,302.3 L462.0,303.8 L459.9,311.3 L455.3,310.4 L454.8,311.2 L454.3,311.9 L453.7,312.6 L453.1,313.3 L455.2,317.5 L448.4,321.4 L445.8,317.5 L444.9,317.7 L444.0,317.9 L443.1,318.0 L442.2,318.0 L440.7,322.5 L433.2,320.4 L434.1,315.8 L433.3,315.3 L432.6,314.8 L431.9,314.2 L431.2,313.6 L427.0,315.7 L423.1,308.9 L427.0,306.3 L426.8,305.4 L426.6,304.5 L426.5,303.6 L426.5,302.7 L422.0,301.2 L424.1,293.7 L428.7,294.6 L429.2,293.8 L429.7,293.1 L430.3,292.4 L430.9,291.7 L428.8,287.5 L435.6,283.6 L438.2,287.5 L439.1,287.3 L440.0,287.1 L440.9,287.0Z" fill="#94aac8"/><path d="M435.5,283 Q440,282 444,285 L443,297 Q441,301 438,304 Q436,299 436.5,293Z" fill="#eef3f9" opacity="0.9"/><path d="M468.3,233.3 L467.7,223.4 L484.5,221.3 L486.3,231.0 L488.7,231.4 L491.0,232.0 L493.2,232.7 L495.5,233.6 L502.1,226.2 L515.4,236.6 L509.8,244.8 L511.2,246.7 L512.4,248.7 L513.5,250.8 L514.4,253.0 L524.3,252.4 L526.4,269.2 L516.7,271.0 L516.3,273.4 L515.7,275.7 L515.0,277.9 L514.1,280.2 L521.5,286.8 L511.1,300.1 L502.9,294.5 L501.0,295.9 L499.0,297.1 L496.9,298.2 L494.7,299.1 L495.3,309.0 L478.5,311.1 L476.7,301.4 L474.3,301.0 L472.0,300.4 L469.8,299.7 L467.5,298.8 L460.9,306.2 L447.6,295.8 L453.2,287.6 L451.8,285.7 L450.6,283.7 L449.5,281.6 L448.6,279.4 L438.7,280.0 L436.6,263.2 L446.3,261.4 L446.7,259.0 L447.3,256.7 L448.0,254.5 L448.9,252.2 L441.5,245.6 L451.9,232.3 L460.1,237.9 L462.0,236.5 L464.0,235.3 L466.1,234.2Z M501.0,266.2 A19.5,19.5 0 1 0 462.0,266.2 A19.5,19.5 0 1 0 501.0,266.2Z" fill="url(#gBig)" fill-rule="evenodd" stroke="#173f7a" stroke-width="2.2" stroke-linejoin="round"/><circle cx="481.5" cy="266.2" r="20.5" fill="none" stroke="#173f7a" stroke-width="2.5"/><path d="M553.0,238.8 L554.4,233.2 L562.1,234.6 L561.5,240.2 L562.5,240.8 L563.5,241.4 L564.5,242.0 L565.4,242.7 L570.3,239.8 L574.8,246.2 L570.3,249.8 L570.7,250.9 L571.0,252.0 L571.2,253.2 L571.3,254.3 L576.9,255.7 L575.5,263.4 L569.9,262.8 L569.3,263.8 L568.7,264.8 L568.1,265.8 L567.4,266.7 L570.3,271.6 L563.9,276.1 L560.3,271.6 L559.2,272.0 L558.1,272.3 L556.9,272.5 L555.8,272.6 L554.4,278.2 L546.7,276.8 L547.3,271.2 L546.3,270.6 L545.3,270.0 L544.3,269.4 L543.4,268.7 L538.5,271.6 L534.0,265.2 L538.5,261.6 L538.1,260.5 L537.8,259.4 L537.6,258.2 L537.5,257.1 L531.9,255.7 L533.3,248.0 L538.9,248.6 L539.5,247.6 L540.1,246.6 L540.7,245.6 L541.4,244.7 L538.5,239.8 L544.9,235.3 L548.5,239.8 L549.6,239.4 L550.7,239.1 L551.9,238.9Z M562.9,255.7 A8.5,8.5 0 1 0 545.9,255.7 A8.5,8.5 0 1 0 562.9,255.7Z" fill="#2a63ae" fill-rule="evenodd" stroke="#1d4d8e" stroke-width="1"/><path d="M579.9,273.8 L581.3,270.8 L585.6,272.4 L584.7,275.6 L585.2,276.0 L585.8,276.4 L586.2,276.9 L586.7,277.4 L589.8,276.2 L591.8,280.4 L588.8,282.0 L588.9,282.7 L589.0,283.4 L589.0,284.1 L589.0,284.7 L592.0,286.1 L590.4,290.4 L587.2,289.5 L586.8,290.0 L586.4,290.6 L585.9,291.0 L585.4,291.5 L586.6,294.6 L582.4,296.6 L580.8,293.6 L580.1,293.7 L579.4,293.8 L578.7,293.8 L578.1,293.8 L576.7,296.8 L572.4,295.2 L573.3,292.0 L572.8,291.6 L572.2,291.2 L571.8,290.7 L571.3,290.2 L568.2,291.4 L566.2,287.2 L569.2,285.6 L569.1,284.9 L569.0,284.2 L569.0,283.5 L569.0,282.9 L566.0,281.5 L567.6,277.2 L570.8,278.1 L571.2,277.6 L571.6,277.0 L572.1,276.6 L572.6,276.1 L571.4,273.0 L575.6,271.0 L577.2,274.0 L577.9,273.9 L578.6,273.8 L579.3,273.8Z M583.6,283.8 A4.6,4.6 0 1 0 574.4,283.8 A4.6,4.6 0 1 0 583.6,283.8Z" fill="#2a63ae" fill-rule="evenodd" stroke="#1d4d8e" stroke-width="0.8"/><path d="M535.2,284.3 L535.0,278.2 L543.4,277.5 L544.3,283.5 L545.6,283.7 L546.8,284.0 L548.0,284.5 L549.1,285.0 L553.3,280.6 L559.7,286.0 L556.1,290.9 L556.8,291.9 L557.4,293.0 L558.0,294.1 L558.4,295.3 L564.5,295.1 L565.2,303.5 L559.2,304.4 L559.0,305.7 L558.7,306.9 L558.2,308.1 L557.7,309.2 L562.1,313.4 L556.7,319.8 L551.8,316.2 L550.8,316.9 L549.7,317.5 L548.6,318.1 L547.4,318.5 L547.6,324.6 L539.2,325.3 L538.3,319.3 L537.0,319.1 L535.8,318.8 L534.6,318.3 L533.5,317.8 L529.3,322.2 L522.9,316.8 L526.5,311.9 L525.8,310.9 L525.2,309.8 L524.6,308.7 L524.2,307.5 L518.1,307.7 L517.4,299.3 L523.4,298.4 L523.6,297.1 L523.9,295.9 L524.4,294.7 L524.9,293.6 L520.5,289.4 L525.9,283.0 L530.8,286.6 L531.8,285.9 L532.9,285.3 L534.0,284.7Z M550.3,301.4 A9,9 0 1 0 532.3,301.4 A9,9 0 1 0 550.3,301.4Z" fill="url(#gOrg)" fill-rule="evenodd" stroke="#d67a12" stroke-width="1"/>
<path d="M639,477 L645,425 Q650,395 680,378 Q700,368 735,367 L770,366 Q790,366 800,376 Q812,420 806,477Z" fill="#f4f4f4"/><path d="M639,477 L645,425 Q650,395 668,385 L660,477Z" fill="#e9eaeb"/><rect x="804" y="396" width="74" height="46" rx="10" fill="#d6d7d8" filter="url(#blur3)"/><path d="M812,436 L818,452 L830,436Z" fill="#dcdcdc" filter="url(#blur3)"/><defs><linearGradient id="gbG" x1="0" y1="0" x2="0" y2="1"><stop offset="0" stop-color="#72b043"/><stop offset="1" stop-color="#4f952f"/></linearGradient><linearGradient id="gbB" x1="0" y1="0" x2="0" y2="1"><stop offset="0" stop-color="#6aa1d9"/><stop offset="1" stop-color="#4f89c7"/></linearGradient><linearGradient id="gQ" x1="0" y1="0" x2="0" y2="1"><stop offset="0" stop-color="#f8a629"/><stop offset="1" stop-color="#e9860f"/></linearGradient><linearGradient id="gJk" x1="0" y1="0" x2="0" y2="1"><stop offset="0" stop-color="#2c5eaa"/><stop offset="1" stop-color="#244f95"/></linearGradient></defs><rect x="797" y="388" width="73" height="42.3" rx="8" fill="url(#gbG)"/><path d="M804,428 L809.4,441.7 L822,428Z" fill="#55982f"/><circle cx="824.4" cy="408.3" r="3.6" fill="#fff"/><circle cx="836.7" cy="408.3" r="3.6" fill="#fff"/><circle cx="849.8" cy="408.3" r="3.6" fill="#fff"/><rect x="761" y="369.7" width="64.2" height="36.9" rx="7" fill="url(#gbB)"/><path d="M764,400 L755.8,407.5 L769,406.6 L772.5,418 L783,406.6Z" fill="#5089c6"/><circle cx="781.3" cy="388.1" r="3.6" fill="#fff"/><circle cx="793.6" cy="388.1" r="3.6" fill="#fff"/><circle cx="806" cy="388.1" r="3.6" fill="#fff"/><circle cx="782" cy="449.5" r="16.7" fill="#c8c8c8" opacity="0.5"/><circle cx="780.8" cy="447.9" r="16.7" fill="url(#gQ)"/><text x="780.8" y="456" text-anchor="middle" font-family="Liberation Sans" font-weight="bold" font-size="22" fill="#fff">?</text><path d="M668,410 Q667,371 707,370 Q747,371 746,410 L747,438 Q750,450 757,456 Q748,460 738,457 L728,452 L688,452 L677,457 Q667,460 658,456 Q665,450 667,438Z" fill="#2a2421"/><path d="M668.5,418 Q667.5,372 707,371 Q746.5,372 745.5,418 L733.5,412 Q732,395 718,388 Q692,397 682.5,416Z" fill="#4a3528"/><path d="M652,477 Q653,463 667,459 L690,452 L726,452 L749,459 Q763,463 764,477Z" fill="url(#gJk)"/><path d="M696,436 L720,436 L721,452 L708,462 L695,452Z" fill="#f4c2a2"/><path d="M696,440 Q708,447 720,440 L720,446 Q708,452 696,446Z" fill="#e5ad8f"/><path d="M687,452.5 L697,448.5 L708,463 L719,448.5 L729,452.5 L716,477 L700,477Z" fill="#fff"/><path d="M702.5,471 L708,463 L713.5,471 L710,477 L706,477Z" fill="#f2d0c0"/><path d="M683.5,413 Q692,398 718,389 Q731,395 732.5,406 L732.5,420 Q731.5,440 708,446 Q684.5,440 683.5,420Z" fill="#fbcda9"/><path d="M690,400 Q700,392 712,389" fill="none" stroke="#2f231c" stroke-width="0.8" opacity="0.6"/><path d="M670.5,410 Q670,368 707,367 Q744,368 744.5,410" fill="none" stroke="#1e1e1e" stroke-width="3.6"/><path d="M673.5,407 Q674,371.5 707,370.5 Q740,371.5 741.5,407" fill="none" stroke="#e8eef6" stroke-width="1.3"/><path d="M675,407 Q676,373 707,372.3 Q738,373 740,407" fill="none" stroke="#3a6db8" stroke-width="0.9"/><ellipse cx="675.5" cy="417" rx="8" ry="13" fill="#3a70bd" stroke="#15325f" stroke-width="1.3"/><ellipse cx="739.5" cy="417" rx="8" ry="13" fill="#3a70bd" stroke="#15325f" stroke-width="1.3"/><path d="M679,405 Q684,417 679,429 L683,429 Q686,417 683,405Z" fill="#162f5c"/><path d="M736,405 Q731,417 736,429 L732,429 Q729,417 732,405Z" fill="#162f5c"/><path d="M737,428 Q733,434 720,434" fill="none" stroke="#15325f" stroke-width="2"/><ellipse cx="715" cy="434.2" rx="6" ry="3.6" fill="#2c5ea8" stroke="#15325f" stroke-width="1"/>
<defs><linearGradient id="gHorn" x1="0" y1="0" x2="0" y2="1"><stop offset="0" stop-color="#f4f5f6"/><stop offset="0.6" stop-color="#e6e8ea"/><stop offset="0.61" stop-color="#c9ccd1"/><stop offset="1" stop-color="#bfc3c9"/></linearGradient></defs><ellipse cx="232" cy="468" rx="68" ry="7" fill="#ddd3ea"/><circle cx="296.7" cy="440.1" r="38.5" fill="#d9322f"/><circle cx="296.7" cy="440.1" r="30.5" fill="#f8efe2"/><circle cx="296.7" cy="440.1" r="23" fill="#d9322f"/><circle cx="296.7" cy="440.1" r="15" fill="#f8efe2"/><circle cx="296.7" cy="440.1" r="7.5" fill="#d9322f"/><path d="M258.2,440.1 A38.5,38.5 0 0 0 335.2,440.1 L329.7,440.1 A33,33 0 0 1 263.7,440.1Z" fill="#000" opacity="0.06"/><rect x="294" y="393" width="3.6" height="6" rx="1" fill="#222"/><circle cx="289.5" cy="388" r="2" fill="#e8602a"/><circle cx="293.5" cy="384" r="1.8" fill="#e8602a"/><circle cx="297.0" cy="388" r="2" fill="#e8602a"/><circle cx="292.5" cy="391" r="2" fill="#e8602a"/><circle cx="295.0" cy="387" r="1.6" fill="#e8602a"/><path d="M338.5,423.5 C331,416 316,408 316,395 C316,386 322,381 330,381 C334,381 337,382.5 338.5,384 C340,382.5 343,381 347,381 C355,381 361,386 361,395 C361,408 346,416 338.5,423.5Z" fill="#e13561"/><path d="M338.5,410 C334,406 327,401 327,395 C327,391 330,388.5 333,388.5 C335.5,388.5 337.5,390 338.5,392 C339.5,390 341.5,388.5 344,388.5 C347,388.5 350,391 350,395 C350,401 343,406 338.5,410Z" fill="#fff"/><path d="M296,438.2 L360,426.5 L361,431 L297.5,441.8Z" fill="#163d77"/><circle cx="296.8" cy="440" r="2" fill="#163d77"/><path d="M354,425.5 L380.8,421.5 L372.4,429.8 L381.3,436.2 L357,435.5 Q354.5,431 354,425.5Z" fill="#173f7b"/><path d="M356,429.5 L374,427.5" stroke="#0f2d5c" stroke-width="1"/><path d="M198,436 L213,433 L229,469 Q229,473 224,474 L216,475 Q212,475 211,471Z" fill="#2058aa"/><path d="M213.5,467 L227.5,465 L229,470 Q229,474 224,474.5 L216,475 Q212,475 211.5,471Z" fill="#7aa3d8"/><path d="M210,440 L218,438 L222,452 L215,452Z" fill="#e6e8ea"/><path d="M216,393.5 Q246,386 265.5,365.5 L283,438.5 Q250,436.5 220.5,430.5Z" fill="url(#gHorn)" stroke="#17407a" stroke-width="2" stroke-linejoin="round"/><ellipse cx="273.5" cy="402" rx="8.5" ry="37.5" transform="rotate(-12 273.5 402)" fill="#d5d8dc" stroke="#17407a" stroke-width="2.2"/><ellipse cx="271.5" cy="402" rx="5.5" ry="9" transform="rotate(-12 271.5 402)" fill="#1f56a8"/><path d="M274,394 A5.5,9 -12 0 1 273,410" fill="none" stroke="#102f5f" stroke-width="2"/><path d="M190,403 Q170,402 170,419 Q170,436 190,436Z" fill="#14305e"/><path d="M184,400 Q184,396 188,395.5 L214,392 Q218,391.5 218.5,395.5 L221,430 Q221,434 217,434.5 L191,438 Q187,438.5 186.5,434.5Z" fill="#1f56a8"/><path d="M186,399 L216,395" stroke="#5b8bd0" stroke-width="1.5"/><path d="M187,432 L220,428 L221,430 Q221,434 217,434.5 L191,438 Q187,438.5 186.5,434.5Z" fill="#183f80"/><ellipse cx="202" cy="377.3" rx="1.7" ry="3" fill="#f2c12e"/><ellipse cx="202" cy="388.3" rx="1.7" ry="3" fill="#f2c12e"/><ellipse cx="196.5" cy="382.8" rx="3" ry="1.7" fill="#f2c12e"/><ellipse cx="207.5" cy="382.8" rx="3" ry="1.7" fill="#f2c12e"/>
<text x="147.2" y="214.6" font-family="Liberation Sans" font-weight="bold" font-size="26.5" fill="#fff" textLength="235.3" lengthAdjust="spacingAndGlyphs">Process Automation</text>
<text x="621.6" y="214.6" font-family="Liberation Sans" font-weight="bold" font-size="26.5" fill="#fff" textLength="244.7" lengthAdjust="spacingAndGlyphs">Data-Driven Insights</text>
<text x="624.2" y="511.9" font-family="Liberation Sans" font-weight="bold" font-size="26.5" fill="#fff" textLength="243.9" lengthAdjust="spacingAndGlyphs">Customer Interaction</text>
<text x="693" y="540.4" font-family="Liberation Sans" font-weight="bold" font-size="26.5" fill="#fff" textLength="116.1" lengthAdjust="spacingAndGlyphs">&amp; Support</text>
<text x="160.6" y="511.9" font-family="Liberation Sans" font-weight="bold" font-size="26.5" fill="#fff" textLength="220.7" lengthAdjust="spacingAndGlyphs">Improve Marketing</text>
<text x="130.4" y="540.4" font-family="Liberation Sans" font-weight="bold" font-size="26.5" fill="#fff" textLength="281.6" lengthAdjust="spacingAndGlyphs">&amp; Customer Engagement</text>
<text x="406.4" y="363" font-family="Liberation Sans" font-weight="bold" font-size="33.5" fill="#17458a" textLength="209.5" lengthAdjust="spacingAndGlyphs">AI &amp; Analytics</text>
</svg>
</body></html>
